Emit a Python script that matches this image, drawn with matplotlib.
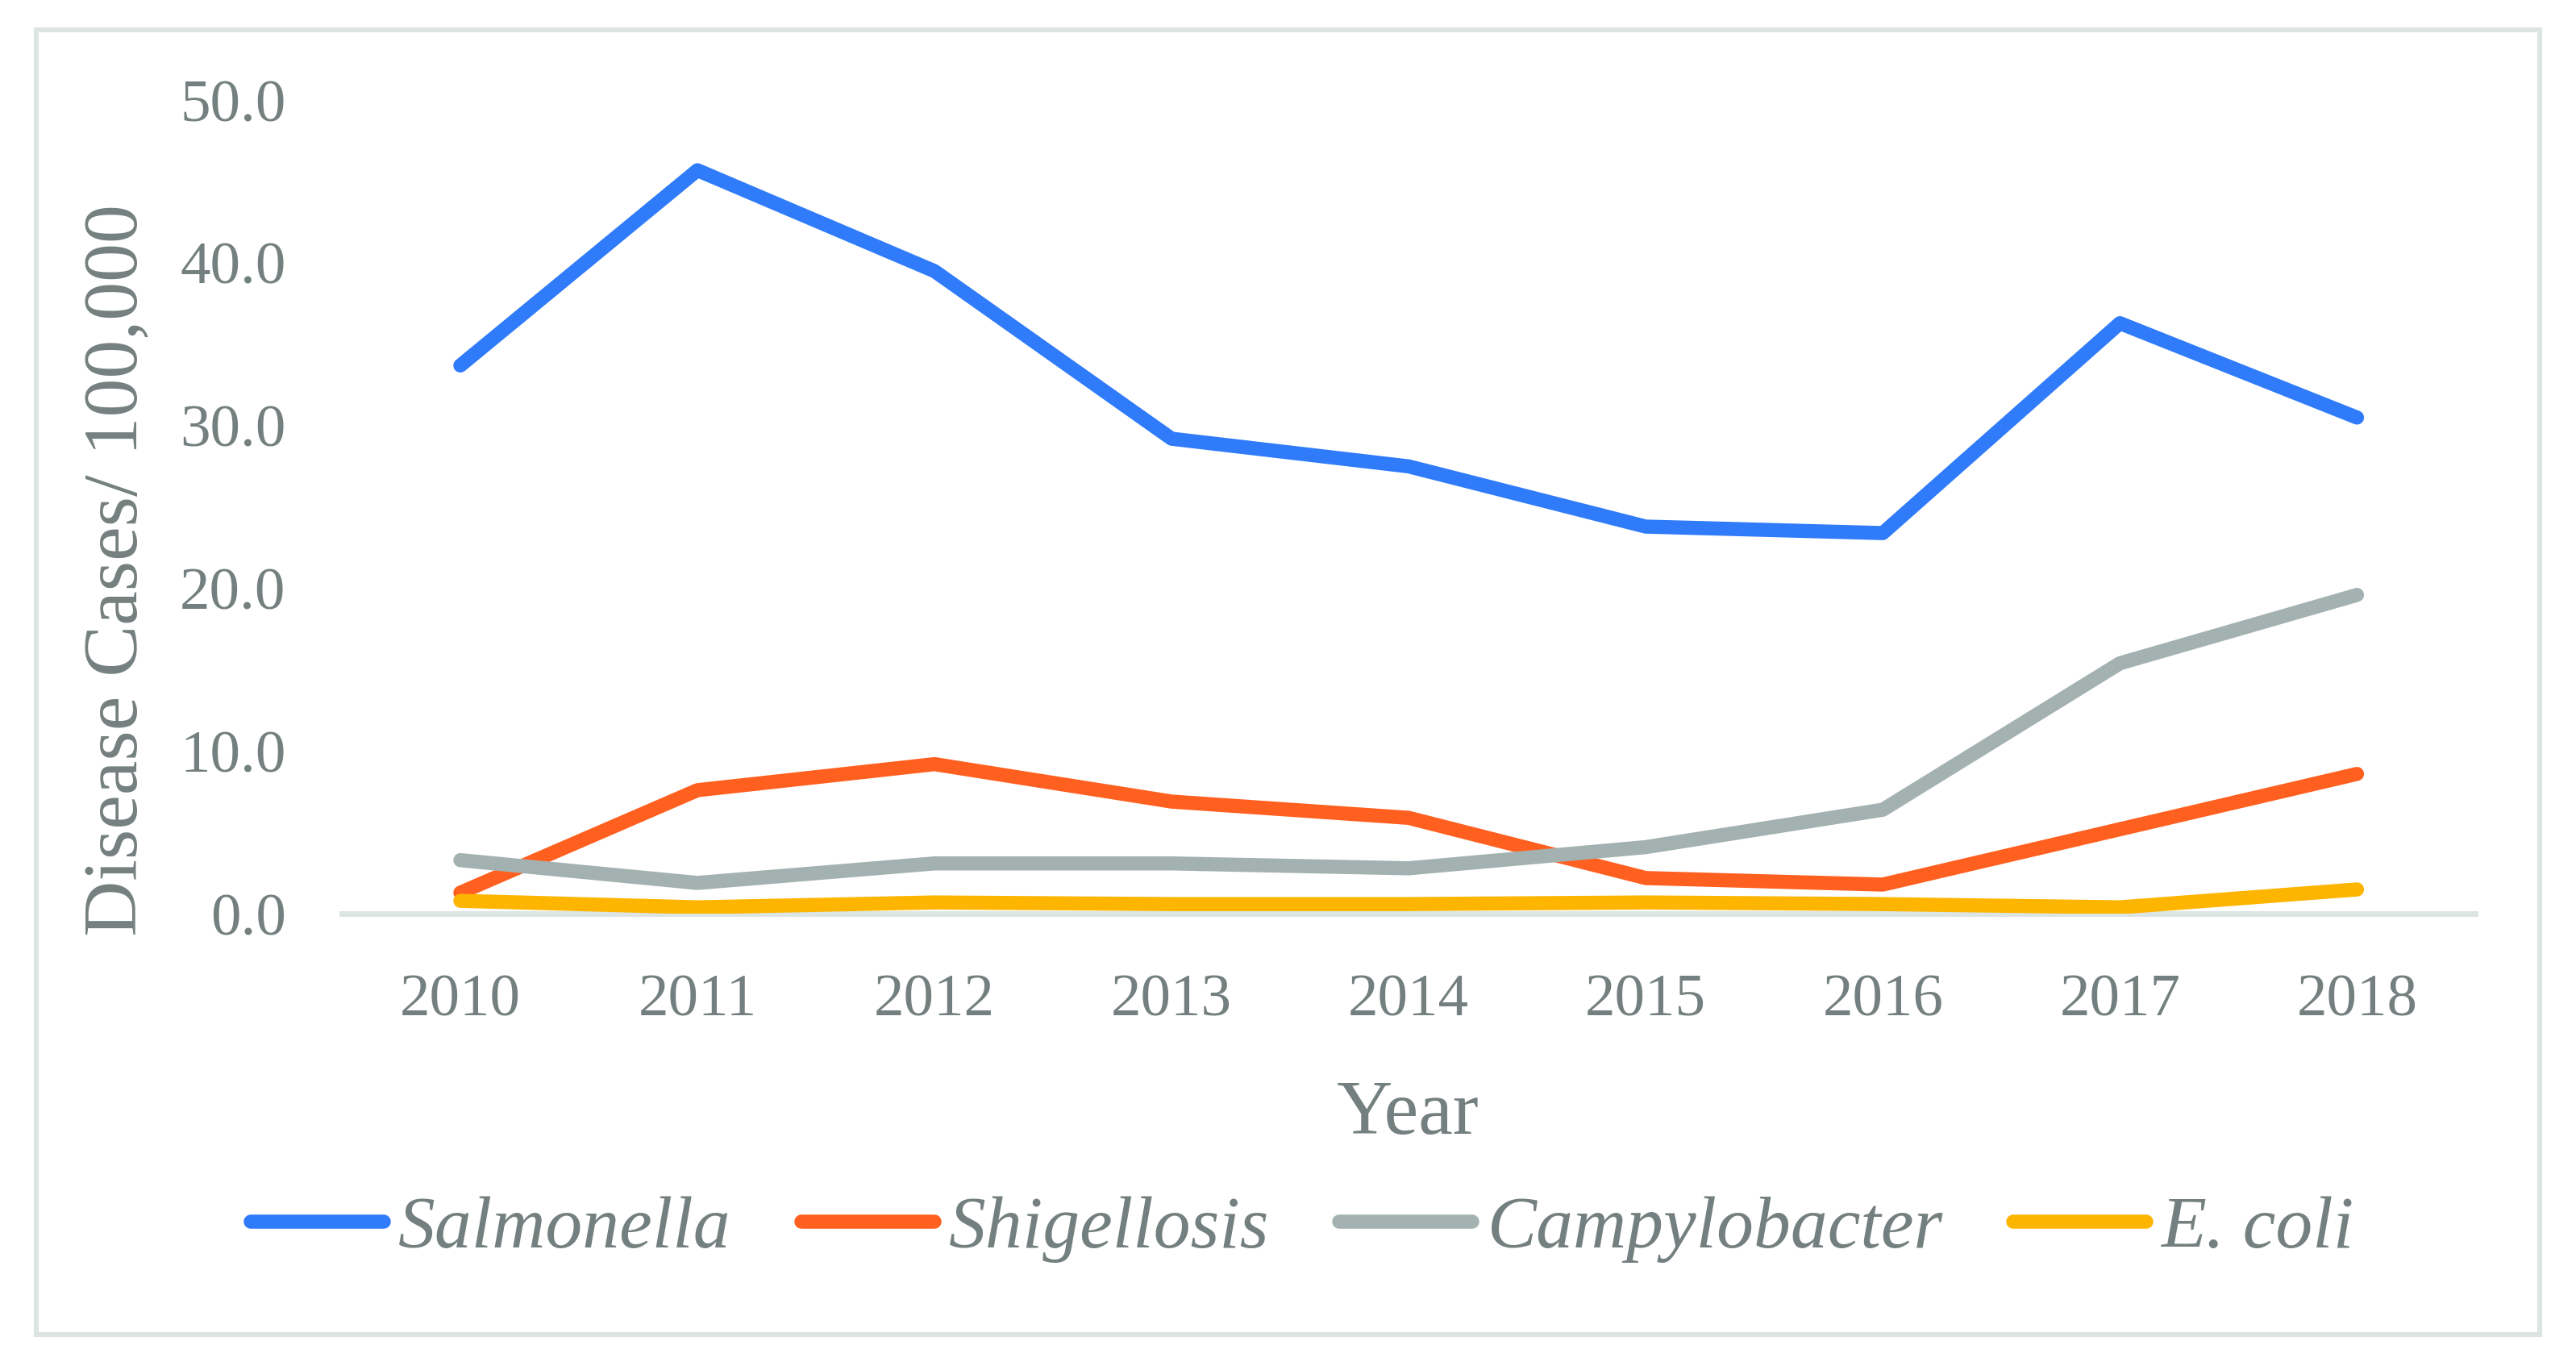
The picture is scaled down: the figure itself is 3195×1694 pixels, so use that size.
import matplotlib.pyplot as plt
from matplotlib.patches import Rectangle

# data
years = ["2010", "2011", "2012", "2013", "2014", "2015", "2016", "2017", "2018"]
salmonella = [33.7, 45.7, 39.5, 29.2, 27.5, 23.8, 23.4, 36.3, 30.5]
shigellosis = [1.3, 7.6, 9.2, 6.9, 5.9, 2.2, 1.8, 5.2, 8.6]
campylobacter = [3.3, 1.9, 3.1, 3.1, 2.8, 4.1, 6.4, 15.4, 19.6]
ecoli = [0.8, 0.4, 0.7, 0.6, 0.6, 0.7, 0.6, 0.4, 1.5]

series_names = ["Salmonella", "Shigellosis", "Campylobacter", "E. coli"]
series_colors = ["#2F7BFA", "#FF5F1F", "#A3B1B0", "#FDB500"]

text_color = "#74807F"
frame_color = "#DCE5E3"
plt.rcParams['font.family'] = ['Liberation Serif', 'DejaVu Serif']

fig = plt.figure(figsize=(15.975, 8.47), dpi=200)
ax = fig.add_axes([0.1327, 0.331, 0.8283, 0.5956])

x = list(range(len(years)))
for vals, name, col in zip([salmonella, shigellosis, campylobacter, ecoli],
                           series_names, series_colors):
    ax.plot(x, vals, color=col, lw=6.3, solid_capstyle='round',
            solid_joinstyle='round', label=name, zorder=3)

ax.set_xlim(-0.5, len(years) - 0.5)
ax.set_ylim(0, 50)
ax.set_yticks([0, 10, 20, 30, 40, 50])
ax.set_yticklabels([f"{v:.1f}" for v in [0, 10, 20, 30, 40, 50]])
ax.set_xticks(x)
ax.set_xticklabels(years)

for s in ["top", "right", "left"]:
    ax.spines[s].set_visible(False)
ax.spines["bottom"].set_color(frame_color)
ax.spines["bottom"].set_linewidth(2.5)
ax.spines["bottom"].set_zorder(1)

ax.tick_params(axis='both', length=0, labelsize=27, labelcolor=text_color)
ax.tick_params(axis='y', pad=25)
ax.tick_params(axis='x', pad=27)

fig.text(0.046, 0.5824, "Disease Cases/ 100,000", rotation=90, ha='center',
         va='center', fontsize=34.5, color=text_color)
fig.text(0.5466, 0.184, "Year", ha='center', va='center', fontsize=34.5,
         color=text_color)

leg = fig.legend(loc='center', bbox_to_anchor=(0.5055, 0.1, 0, 0), ncol=4,
                 frameon=False, handlelength=1.8, handletextpad=0.2,
                 columnspacing=0.95, prop={'size': 33, 'style': 'italic'})
for t in leg.get_texts():
    t.set_color(text_color)

# outer chart border
fig.patches.append(Rectangle((0.014, 0.023), 0.972, 0.955, transform=fig.transFigure,
                             fill=False, edgecolor=frame_color, lw=2.2))

fig.savefig("out.png", dpi=200, facecolor="white")
